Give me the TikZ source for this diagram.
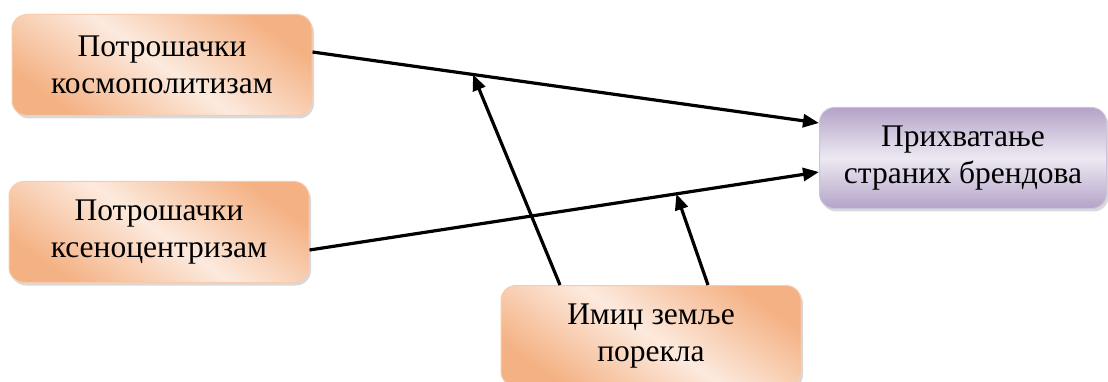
\documentclass[tikz,border=0pt]{standalone}
\usepackage{fontspec}
\setmainfont{Liberation Serif}
\usetikzlibrary{arrows.meta, positioning, shadows}
\definecolor{narEdge}{RGB}{244,177,131}
\definecolor{narMid}{RGB}{252,234,222}
\definecolor{narLine}{RGB}{248,203,173}
\definecolor{ljEdge}{RGB}{180,163,200}
\definecolor{ljMid}{RGB}{237,233,242}
\definecolor{ljLine}{RGB}{205,195,220}

\begin{document}
\begin{tikzpicture}[
        x=1pt, y=-1pt,
        every node/.style={font=\rmfamily\fontsize{31.5}{37}\selectfont},
        box/.style={draw=narLine, line width=1pt, rounded corners=15pt, minimum width=300pt, minimum height=101pt,
                    align=center, top color=narEdge, bottom color=narEdge, middle color=narMid, shading angle=-35,
                    drop shadow={shadow xshift=2pt, shadow yshift=-3pt, opacity=0.3}},
        cilj/.style={box, draw=ljLine, top color=ljEdge, bottom color=ljEdge, middle color=ljMid, minimum width=287pt},
        arr/.style={-{Triangle[length=16pt, width=13pt]}, line width=3.2pt}
    ]
        \useasboundingbox (0,0) rectangle (1108,382);

        \node[box]  (kosmo)   at (162,65)  {Потрошачки\\космополитизам};
        \node[box]  (kseno)   at (159,232) {Потрошачки\\ксеноцентризам};
        \node[cilj] (prihvat) at (963,158) {Прихватање\\страних брендова};
        \node[box]  (imidz)   at (651,336) {Имиџ земље\\порекла};

        \draw[arr] ([yshift=13pt]kosmo.east) -- coordinate[pos=0.317] (m1) ([yshift=35pt]prihvat.west);
        \draw[arr] ([yshift=-18pt]kseno.east) -- coordinate[pos=0.72] (m2) ([yshift=-14pt]prihvat.west);

        % moderacija
        \draw[arr] ([xshift=-91pt]imidz.north) -- (m1);
        \draw[arr] ([xshift=57pt]imidz.north) -- (m2);
    \end{tikzpicture}
\end{document}
